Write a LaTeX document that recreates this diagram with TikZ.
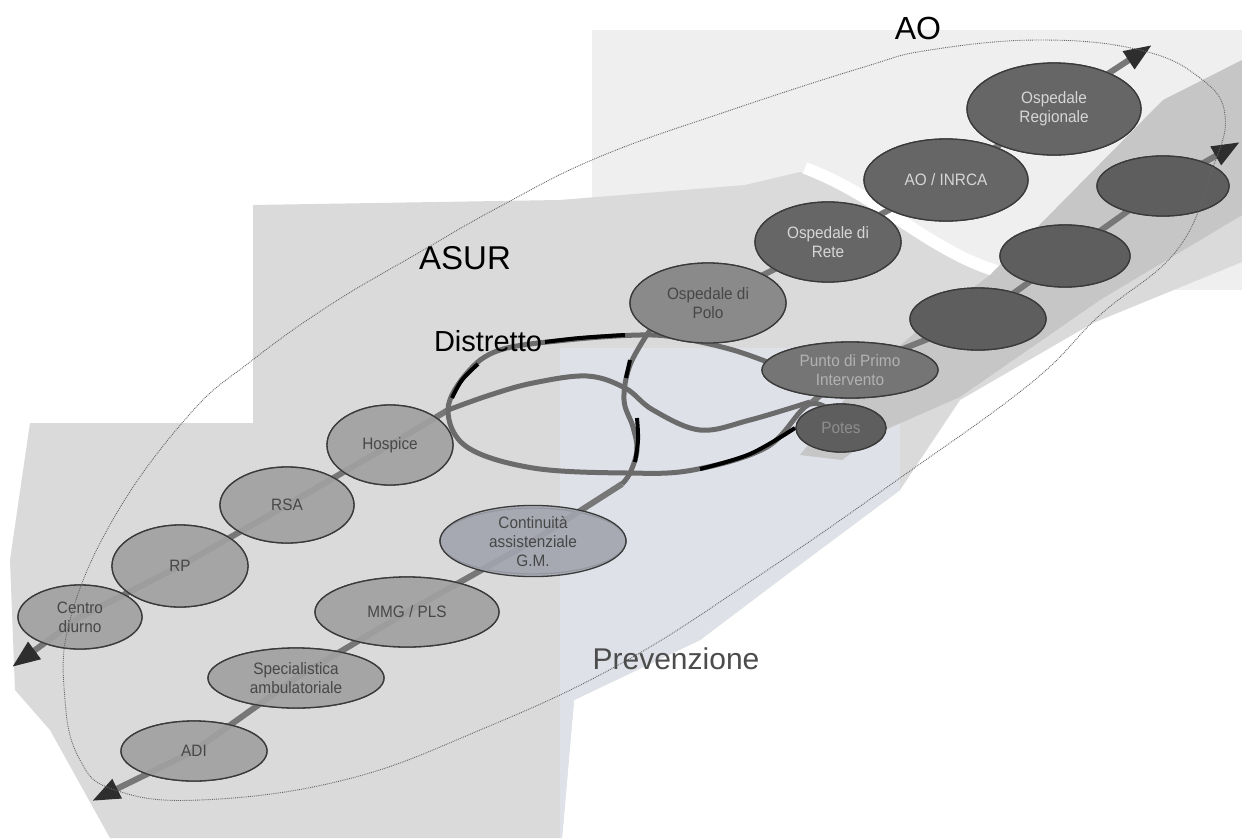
\documentclass[tikz,border=0pt]{standalone}
\usepackage{fontspec}
\setmainfont{Liberation Sans}
\newfontfamily\condf[FakeStretch=0.93]{Liberation Sans}
\usetikzlibrary{shapes.geometric,arrows.meta}
\definecolor{aobg}{HTML}{EFEFEF}
\definecolor{asurbg}{HTML}{DADADA}
\definecolor{bluebg}{HTML}{DFE1E9}
\definecolor{bandbg}{HTML}{C6C6C6}
\definecolor{chainline}{HTML}{777777}
\definecolor{tipcol}{HTML}{2E2E2E}
\definecolor{lightfill}{HTML}{A4A4A4}
\definecolor{contfill}{HTML}{A6A8B2}
\definecolor{polofill}{HTML}{8A8A8A}
\definecolor{darkfill}{HTML}{666666}
\definecolor{emfill}{HTML}{5E5E5E}
\definecolor{darktext}{HTML}{474747}
\definecolor{lighttext}{HTML}{D6D6D6}
\definecolor{outline}{HTML}{3A3A3A}
\begin{document}
\begin{tikzpicture}[x=1pt,y=-1pt,
  chain/.style={draw=chainline,line width=6pt},
  tipped/.style={-{Triangle[length=28pt,width=20pt,color=tipcol]}},
  loopline/.style={draw=chainline!90!black,line width=5pt},
  blackseg/.style={draw=black,line width=4pt},
  oval/.style={ellipse,draw=outline,line width=1.3pt,inner sep=0pt,align=center,
     font=\condf\fontsize{16.5}{19}\selectfont},
  lightoval/.style={oval,fill=lightfill,fill opacity=0.85,text opacity=1,text=darktext},
  contoval/.style={oval,fill=contfill,fill opacity=0.85,text opacity=1,text=darktext},
  polooval/.style={oval,fill=polofill,text=darktext},
  darkoval/.style={oval,fill=darkfill,text=lighttext},
  emoval/.style={oval,fill=emfill,text=emfill!70!white},
  biglabel/.style={inner sep=0pt,font=\fontsize{32}{36}\selectfont},
]
\useasboundingbox (0,0) rectangle (1242,838);
\fill[white] (0,0) rectangle (1242,838);
% backgrounds
\fill[aobg] (592,30) rectangle (1242,290);
\def\asurpath{(253,205) -- (560,200) -- (745,185) -- (800,172)
   .. controls (880,200) and (930,260) .. (1000,276)
   -- (1242,140) -- (1242,262) -- (1093,323) -- (960,400) -- (900,490) -- (786,575)
   -- (700,640) -- (574,700) -- (562,838) -- (110,838) -- (50,730) -- (15,690)
   -- (10,560) -- (30,423) -- (253,423) -- cycle}
\fill[asurbg] \asurpath;
\begin{scope}
  \clip \asurpath;
  \fill[bluebg] (560,348) rectangle (900,838);
\end{scope}
\draw[white,line width=12pt] (805,168) .. controls (880,196) and (930,252) .. (1000,272);
\fill[bandbg] (800,455) -- (860,380) -- (930,320) -- (990,275) -- (1163,100) -- (1242,60)
   -- (1242,215) -- (1100,300) -- (960,397) -- (880,432) -- (842,460) -- cycle;

% anchor coordinates
\coordinate (L) at (448,410);
\coordinate (J) at (810,404);
\coordinate (V) at (622,484);
\coordinate (tipL) at (12,667);
\coordinate (tipB) at (92,801);
\coordinate (tipT) at (1152,45);
\coordinate (tipR) at (1240,142);

% node positions (named, for the connectors)
\path
  (390,445) node[lightoval,minimum width=126pt,minimum height=80pt] (hospice) {}
  (287,505) node[lightoval,minimum width=134pt,minimum height=76pt] (rsa) {}
  (180,566) node[lightoval,minimum width=136pt,minimum height=82pt] (rp) {}
  (80,617)  node[lightoval,minimum width=124pt,minimum height=64pt] (centro) {}
  (533,541) node[contoval,minimum width=186pt,minimum height=66pt] (cont) {}
  (407,612) node[lightoval,minimum width=184pt,minimum height=70pt] (mmg) {}
  (296,678) node[lightoval,minimum width=176pt,minimum height=60pt] (spec) {}
  (194,751) node[lightoval,minimum width=146pt,minimum height=60pt] (adi) {}
  (708,303) node[polooval,minimum width=156pt,minimum height=80pt] (polo) {}
  (828,242) node[darkoval,minimum width=146pt,minimum height=80pt] (rete) {}
  (946,180) node[darkoval,minimum width=164pt,minimum height=82pt] (inrca) {}
  (1054,109) node[darkoval,minimum width=174pt,minimum height=92pt] (reg) {}
  (1163,186) node[emoval,minimum width=132pt,minimum height=60pt] (e1) {}
  (1065,256) node[emoval,minimum width=130pt,minimum height=62pt] (e2) {}
  (978,319) node[emoval,minimum width=136pt,minimum height=62pt] (e3) {}
  (850,370) node[darkoval,fill=darkfill!90!white,minimum width=176pt,minimum height=56pt] (ppi) {}
  (841,428) node[emoval,minimum width=90pt,minimum height=48pt] (potes) {};

% chain lines
\draw[chain,tipped] (L) -- (hospice.center) -- (rsa.center) -- (rp.center) -- (centro.center) -- (tipL);
\draw[chain,tipped] (V) -- (cont.center) -- (mmg.center) -- (spec.center) -- (adi.center) -- (tipB);
\draw[chain,tipped] (polo.center) -- (rete.center) -- (inrca.center) -- (reg.center) -- (tipT);
\draw[chain,tipped] (J) -- (ppi.center) -- (e3.center) -- (e2.center) -- (e1.center) -- (tipR);

% Distretto loops
\draw[loopline] plot[smooth,tension=0.6] coordinates {(775,365) (733,350) (680,338) (640,335) (567,340) (500,350) (467,373) (448,410) (467,447) (533,468) (627,473) (693,470) (767,447) (810,404) (842,420)};
\draw[loopline] plot[smooth,tension=0.6] coordinates {(448,410) (490,395) (533,383) (587,376) (625,388) (653,410) (700,430) (750,420) (810,402)};
\draw[loopline] plot[smooth,tension=0.6] coordinates {(650,330) (630,365) (624,400) (633,427) (637,450) (630,473) (622,484)};
% black scan segments
\draw[blackseg] plot[smooth,tension=0.6] coordinates {(545,342) (580,338) (625,335)};
\draw[blackseg] plot[smooth,tension=0.6] coordinates {(452,398) (462,380) (478,364)};
\draw[blackseg] plot[smooth,tension=0.6] coordinates {(700,469) (750,454) (795,428)};
\draw[blackseg] plot[smooth,tension=0.6] coordinates {(630,360) (626,378)};
\draw[blackseg] plot[smooth,tension=0.6] coordinates {(637,418) (638,440) (635,462)};

% nodes with their texts, on top of the lines
\path
  (390,445) node[lightoval,minimum width=126pt,minimum height=80pt] {Hospice}
  (287,505) node[lightoval,minimum width=134pt,minimum height=76pt] {RSA}
  (180,566) node[lightoval,minimum width=136pt,minimum height=82pt] {RP}
  (80,617)  node[lightoval,minimum width=124pt,minimum height=64pt] {Centro\\diurno}
  (533,541) node[contoval,minimum width=186pt,minimum height=66pt] {Continuità\\assistenziale\\G.M.}
  (407,612) node[lightoval,minimum width=184pt,minimum height=70pt] {MMG / PLS}
  (296,678) node[lightoval,minimum width=176pt,minimum height=60pt] {Specialistica\\ambulatoriale}
  (194,751) node[lightoval,minimum width=146pt,minimum height=60pt] {ADI}
  (708,303) node[polooval,minimum width=156pt,minimum height=80pt] {Ospedale di\\Polo}
  (828,242) node[darkoval,minimum width=146pt,minimum height=80pt] {Ospedale di\\Rete}
  (946,180) node[darkoval,minimum width=164pt,minimum height=82pt] {AO / INRCA}
  (1054,109) node[darkoval,minimum width=174pt,minimum height=92pt] {Ospedale\\Regionale}
  (1163,186) node[emoval,minimum width=132pt,minimum height=60pt] {}
  (1065,256) node[emoval,minimum width=130pt,minimum height=62pt] {}
  (978,319) node[emoval,minimum width=136pt,minimum height=62pt] {}
  (850,370) node[darkoval,fill=darkfill!90!white,text=darkfill!50!white,minimum width=176pt,minimum height=56pt] {Punto di Primo\\Intervento}
  (841,428) node[emoval,minimum width=90pt,minimum height=48pt] {Potes};

% big dotted ellipse
\draw[densely dotted,draw=black!60,line width=0.9pt] plot[smooth cycle,tension=0.7] coordinates {
 (1225,115) (1200,78) (1140,50) (1040,40) (930,50) (864,67) (731,110) (599,157) (499,207)
 (420,252) (330,305) (250,362) (189,415) (115,516) (70,620) (65,700) (80,760) (115,790)
 (200,800) (344,780) (480,730) (622,663) (760,575) (900,478) (1031,383) (1100,315)
 (1177,250) (1212,170)};

% labels
\node[biglabel] (lblAO) at (918,28) {AO};
\node[biglabel,font=\fontsize{33}{36}\selectfont] (lblASUR) at (465,258) {ASUR};
\node[biglabel,font=\fontsize{29}{32}\selectfont] (lblDis) at (488,341) {Distretto};
\node[biglabel,font=\fontsize{30}{32}\selectfont,text=black!70] (lblPrev) at (676,659) {Prevenzione};
\end{tikzpicture}
\end{document}
